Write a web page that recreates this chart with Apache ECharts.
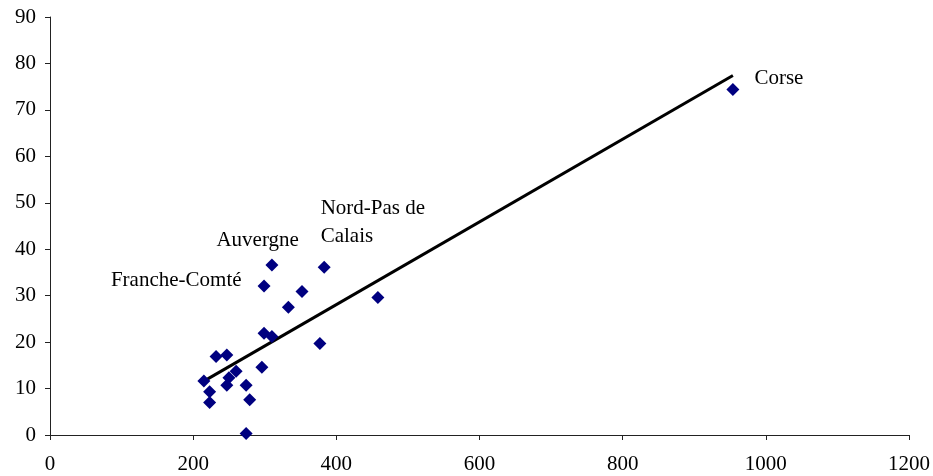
<!DOCTYPE html>
<html>
<head>
<meta charset="utf-8">
<script src="https://cdn.jsdelivr.net/npm/echarts@6/dist/echarts.min.js"></script>
<style>html,body{margin:0;padding:0;background:#fff}#c{width:933px;height:476px}</style>
</head>
<body>
<div id="c"></div>
<script>
const xValues = [954, 215, 223, 223, 232, 247, 247, 250, 260, 274, 279, 274, 296, 299, 310, 299, 310, 333, 352, 377, 383, 458];
const yValues = [74.4, 11.6, 9.3, 7.0, 16.9, 17.2, 10.7, 12.3, 13.7, 10.7, 7.6, 0.3, 14.6, 21.9, 21.2, 32.1, 36.6, 27.5, 30.9, 19.7, 36.1, 29.6];
const pointNames = ['Corse', '', '', '', '', '', '', '', '', '', '', '', '', '', '', 'Franche-Comté', 'Auvergne', '', '', '', 'Nord-Pas de\nCalais', ''];
const trendX = [215, 954];
const trendY = [11.6, 77.4];
const xTicks = [0, 200, 400, 600, 800, 1000, 1200];
const yTicks = [0, 10, 20, 30, 40, 50, 60, 70, 80, 90];

const font = 'Liberation Serif';
const labelStyles = {
  'Corse': {position: [28, -4], align: 'left'},
  'Franche-Comté': {position: [-16, 1], align: 'right'},
  'Auvergne': {position: [-49, -18], align: 'left'},
  'Nord-Pas de\nCalais': {position: [3, -38], align: 'left'}
};
const scatterData = xValues.map((x, i) => {
  const n = pointNames[i];
  const item = {value: [x, yValues[i]], name: n};
  if (n) {
    const s = labelStyles[n];
    item.label = {show: true, formatter: n, position: s.position, align: s.align,
      verticalAlign: 'middle', fontFamily: font, fontSize: 21, color: '#000', lineHeight: 28, opacity: 1};
  }
  return item;
});

const chart = echarts.init(document.getElementById('c'));
chart.setOption({
  animation: false,
  grid: {left: 50, right: 24, top: 17, bottom: 41},
  xAxis: {
    type: 'value', min: xTicks[0], max: xTicks[xTicks.length - 1], interval: 200,
    splitLine: {show: false},
    axisLine: {lineStyle: {color: '#222', width: 1}},
    axisTick: {show: true, length: 5, lineStyle: {color: '#222'}},
    axisLabel: {fontFamily: font, fontSize: 21, color: '#000', margin: 19, formatter: v => String(v)}
  },
  yAxis: {
    type: 'value', min: yTicks[0], max: yTicks[yTicks.length - 1], interval: 10,
    splitLine: {show: false},
    axisLine: {show: true, lineStyle: {color: '#222', width: 1}},
    axisTick: {show: true, length: 5, lineStyle: {color: '#222'}},
    axisLabel: {fontFamily: font, fontSize: 21, color: '#000', margin: 14, formatter: v => String(v)}
  },
  series: [
    {
      type: 'line', data: trendX.map((x, i) => [x, trendY[i]]),
      symbol: 'none', lineStyle: {color: '#000', width: 3}, z: 1
    },
    {
      type: 'scatter', data: scatterData, symbol: 'diamond', symbolSize: 13,
      itemStyle: {color: '#000080', opacity: 1}, z: 2
    }
  ]
});
</script>
</body>
</html>
